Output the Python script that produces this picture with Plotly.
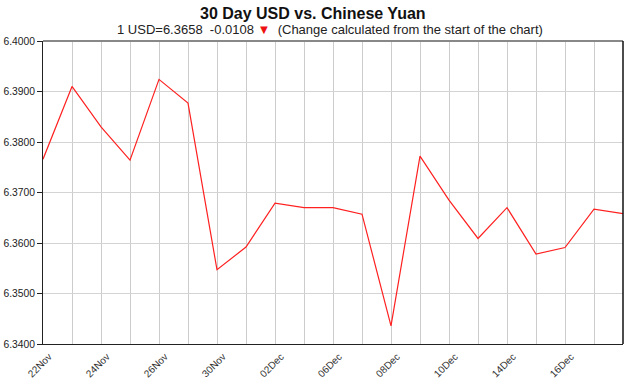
import plotly.graph_objects as go

dates = ["22Nov", "23Nov", "24Nov", "25Nov", "26Nov", "29Nov", "30Nov", "01Dec",
         "02Dec", "03Dec", "06Dec", "07Dec", "08Dec", "09Dec", "10Dec", "13Dec",
         "14Dec", "15Dec", "16Dec", "17Dec", "20Dec"]
rates = [6.3766, 6.3910, 6.3830, 6.3764, 6.3924, 6.3877, 6.3547, 6.3592,
         6.3679, 6.3670, 6.3670, 6.3657, 6.3436, 6.3772, 6.3685, 6.3609,
         6.3670, 6.3578, 6.3591, 6.3667, 6.3658]
labeled = ["22Nov", "24Nov", "26Nov", "30Nov", "02Dec", "06Dec", "08Dec",
           "10Dec", "14Dec", "16Dec"]
y_ticks = [6.34, 6.35, 6.36, 6.37, 6.38, 6.39, 6.40]

xs = list(range(len(dates)))
ticktext = [d if d in labeled else "" for d in dates]

fig = go.Figure()
fig.add_trace(go.Scatter(x=xs, y=rates, mode="lines",
                         line=dict(color="#ff2020", width=1.2),
                         hoverinfo="skip"))

fig.update_layout(
    width=630, height=378,
    margin=dict(l=43, r=7, t=41, b=34),
    paper_bgcolor="white", plot_bgcolor="white",
    font=dict(family="Liberation Sans, Arial, sans-serif", size=11, color="#222"),
    showlegend=False,
    xaxis=dict(
        range=[0, len(dates) - 1], tickmode="array", tickvals=xs, ticktext=ticktext,
        tickangle=-45, showgrid=True, gridcolor="#cccccc", gridwidth=1,
        showline=True, linecolor="#222", linewidth=1, mirror=False,
        ticks="", zeroline=False, tickfont=dict(size=10, color="#333"),
        automargin=False, ticklabelstandoff=2, ticklabelshift=6,
    ),
    yaxis=dict(
        range=[6.34, 6.40], tickmode="array", tickvals=y_ticks, tickformat=".4f",
        showgrid=True, gridcolor="#d4d4d4", gridwidth=1,
        showline=True, linecolor="#222", linewidth=1,
        ticks="outside", ticklen=5, tickcolor="#222", zeroline=False,
        tickfont=dict(size=10.3, color="#222"), automargin=False,
    ),
    shapes=[
        dict(type="line", xref="paper", yref="paper", x0=0, x1=1, y0=1, y1=1,
             line=dict(color="#888", width=2)),
        dict(type="line", xref="paper", yref="paper", x0=1, x1=1, y0=0, y1=1,
             line=dict(color="#111", width=1.5)),
    ],
    annotations=[
        dict(text="<b>30 Day USD vs. Chinese Yuan</b>", xref="paper", yref="paper",
             x=(312.5 - 43) / 580, y=1, yshift=28, xanchor="center", yanchor="middle",
             showarrow=False, font=dict(size=16, color="#111")),
        dict(text="1 USD=6.3658  -0.0108 <span style='color:#ee1111'>▼</span>  (Change calculated from the start of the chart)",
             xref="paper", yref="paper", x=(330 - 43) / 580, y=1, yshift=12, xanchor="center",
             yanchor="middle", showarrow=False, font=dict(size=13, color="#222")),
    ],
)

fig.write_html("out.html")
